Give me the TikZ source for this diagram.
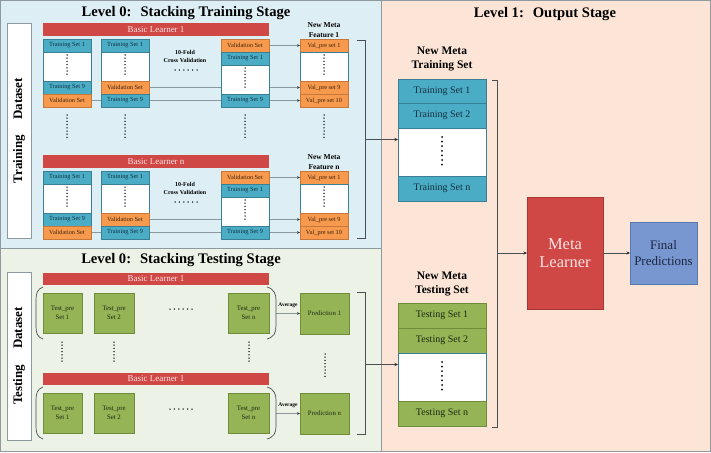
\documentclass[tikz,border=0pt]{standalone}
\usepackage{fontspec}
\setmainfont{Liberation Serif}
\usetikzlibrary{arrows.meta}
\newcommand\fsz[2]{\fontsize{#1}{#2}\selectfont}
\pgfdeclarelayer{bg}
\pgfdeclarelayer{wires}
\pgfsetlayers{bg,wires,main}
\definecolor{bluebg}{HTML}{DDEEF5}
\definecolor{greenbg}{HTML}{ECF2E5}
\definecolor{peachbg}{HTML}{FCE5D7}
\definecolor{tealc}{HTML}{4BACC6}
\definecolor{teald}{HTML}{3A7F96}
\definecolor{ttxt}{HTML}{13303D}
\definecolor{orc}{HTML}{F79A4E}
\definecolor{ord}{HTML}{C8773A}
\definecolor{otxt}{HTML}{3A200C}
\definecolor{redc}{HTML}{D04846}
\definecolor{redd}{HTML}{A83634}
\definecolor{redtxt}{HTML}{FBE3E3}
\definecolor{grc}{HTML}{94B456}
\definecolor{grd}{HTML}{6E8C3A}
\definecolor{gtxt}{HTML}{1E2A12}
\definecolor{bluec}{HTML}{7896CF}
\definecolor{blued}{HTML}{5A78B0}
\definecolor{bluetxt}{HTML}{1C2840}
\definecolor{panelline}{HTML}{8E9AA0}
\definecolor{wirec}{HTML}{8A979C}
\definecolor{brkc}{HTML}{4A4F52}
\begin{document}
\begin{tikzpicture}[x=1pt,y=-1pt,
  cellb/.style={rectangle,inner sep=0pt,outer sep=0pt,anchor=north west,line width=0.5pt},
  tcell/.style={cellb,fill=tealc,draw=teald,text=ttxt,minimum width=48pt,minimum height=#1,font=\fsz{6.3}{7}},
  tcell/.default=13pt,
  ocell/.style={cellb,fill=orc,draw=ord,text=otxt,minimum width=48pt,minimum height=#1,font=\fsz{6.3}{7}},
  ocell/.default=13pt,
  wcell/.style={cellb,fill=white,draw=teald,minimum width=48pt,minimum height=#1},
  redbar/.style={cellb,fill=redc,text=redtxt,minimum width=226pt,minimum height=#1,font=\fsz{9}{10}},
  gsq/.style={cellb,fill=grc,draw=grd,text=gtxt,minimum height=40pt,align=center,font=\fsz{6.8}{8.5}},
  mt/.style={cellb,fill=tealc,draw=teald,text=ttxt,minimum width=88pt,minimum height=#1,font=\fsz{10}{12}},
  mg/.style={cellb,fill=grc,draw=grd,text=gtxt,minimum width=88pt,minimum height=#1,font=\fsz{10}{12}},
  mw/.style={cellb,fill=white,draw=teald,minimum width=88pt,minimum height=#1},
  hdr/.style={align=center,inner sep=0pt,font=\bfseries\fsz{7.5}{10}},
  ttl/.style={inner sep=0pt,font=\bfseries\fsz{14.6}{16}},
  wire/.style={draw=wirec,line width=0.5pt,-{Stealth[length=3pt,width=2.6pt,color=black!80]}},
  arr/.style={draw=brkc,line width=0.6pt,-{Stealth[length=3.5pt,width=3pt,color=black!85]}},
  brk/.style={draw=brkc,line width=0.7pt},
  dotv/.style={draw=black,line width=1.5pt,line cap=round,dash pattern=on 0pt off 3.2pt},
  doth/.style={draw=black,line width=1.5pt,line cap=round,dash pattern=on 0pt off 4.4pt},
  dotb/.style={draw=black,line width=2pt,line cap=round,dash pattern=on 0pt off 4.6pt},
  lbl/.style={draw=panelline,fill=white,rotate=90,inner sep=0pt,minimum height=24pt,font=\bfseries\fsz{13}{15}},
]
\useasboundingbox (0,0) rectangle (711,452);
% panels
\begin{pgfonlayer}{bg}
  \fill[peachbg] (0,0) rectangle (711,452);
  \fill[bluebg] (0,0) rectangle (382,248);
  \fill[greenbg] (0,248) rectangle (382,452);
  \draw[panelline,line width=0.8pt] (0.4,0.4) rectangle (710.6,451.6);
  \draw[panelline,line width=0.8pt] (0.4,0.4) rectangle (381.5,248);
  \draw[panelline,line width=0.8pt] (0.4,248) rectangle (381.5,451.6);
\end{pgfonlayer}

% ---------- Level 0 training ----------
\node[ttl] (t1) at (186,13) {Level 0:\hspace{9pt}Stacking Training Stage};
\node[lbl,minimum width=215pt] (ld1) at (19,130.5) {Training\hspace{15pt}Dataset};

\foreach \g/\oy/\lab in {1/0/1,2/132/n}{
  \node[redbar=13pt] (bl\g) at (43,23+\oy) {Basic Learner \lab};
  \node[tcell] (a1\g) at (43,39+\oy) {Training Set 1};
  \node[wcell=29pt] (a2\g) at (43,52+\oy) {};
  \node[tcell] (a3\g) at (43,81+\oy) {Training Set 9};
  \node[ocell] (a4\g) at (43,94+\oy) {Validation Set};
  \node[tcell] (b1\g) at (101,39+\oy) {Training Set 1};
  \node[wcell=29pt] (b2\g) at (101,52+\oy) {};
  \node[ocell] (b3\g) at (101,81+\oy) {Validation Set};
  \node[tcell] (b4\g) at (101,94+\oy) {Training Set 9};
  \node[ocell] (c1\g) at (221,39+\oy) {Validation Set};
  \node[tcell] (c2\g) at (221,52+\oy) {Training Set 1};
  \node[wcell=29pt] (c3\g) at (221,65+\oy) {};
  \node[tcell] (c4\g) at (221,94+\oy) {Training Set 9};
  \node[ocell] (d1\g) at (300,39+\oy) {Val\_pre set 1};
  \node[wcell=29pt] (d2\g) at (300,52+\oy) {};
  \node[ocell] (d3\g) at (300,81+\oy) {Val\_pre set 9};
  \node[ocell] (d4\g) at (300,94+\oy) {Val\_pre set 10};
  \node[hdr] (h\g) at (324,30+\oy) {New Meta\\Feature \lab};
  \node[align=center,inner sep=0pt,font=\bfseries\fsz{6}{8}] (cv\g) at (185,56+\oy) {10-Fold\\Cross Validation};
  \draw[doth] (175,70+\oy) -- (198,70+\oy);
  \foreach \n in {a2,b2,c3,d2} \draw[dotv] ([yshift=-3pt]\n\g.north) -- ++(0,20);
  \begin{pgfonlayer}{wires}
    \draw[wire] (c1\g.east) -- (d1\g.west);
    \draw[wire] (b3\g.east) -- (d3\g.west);
    \draw[wire] (a4\g.east) -- (d4\g.west);
  \end{pgfonlayer}
}
\foreach \x in {67,125,245,324} \draw[dotv] (\x,115) -- (\x,139);
\draw[brk] (357,40) -- (365,40) -- (365,238) -- (357,238);
\coordinate (k1) at (365,139.5);

% ---------- Level 0 testing ----------
\node[ttl] (t2) at (181,260) {Level 0:\hspace{9pt}Stacking Testing Stage};
\node[lbl,minimum width=168pt] (ld2) at (19,356) {Testing\hspace{16pt}Dataset};

\foreach \g/\oy/\lab in {1/0/1,2/100/n}{
  \node[redbar=12pt] (bb\g) at (43,273+\oy) {Basic Learner 1};
  \node[gsq,minimum width=39pt] (s1\g) at (43,293+\oy) {Test\_pre\\Set 1};
  \node[gsq,minimum width=40pt] (s2\g) at (94,293+\oy) {Test\_pre\\Set 2};
  \node[gsq,minimum width=41pt] (s3\g) at (228,293+\oy) {Test\_pre\\Set n};
  \node[gsq,minimum width=49pt,minimum height=41pt] (p\g) at (300,293+\oy) {Prediction \lab};
  \draw[doth] (170,309+\oy) -- (194,309+\oy);
  \draw[brk] (43,287+\oy) .. controls (37,289+\oy) and (36,294+\oy) .. (36,300+\oy) -- (36,326+\oy) .. controls (36,333+\oy) and (37,337+\oy) .. (43,339+\oy);
  \draw[brk] (267,287+\oy) .. controls (274,289+\oy) and (276,294+\oy) .. (276,300+\oy) -- (276,326+\oy) .. controls (276,333+\oy) and (274,337+\oy) .. (267,339+\oy);
  \coordinate (pa\g) at (276,313.5+\oy);
  \node[inner sep=0pt,font=\bfseries\fsz{5.5}{6}] (av\g) at (288,305+\oy) {Average};
  \begin{pgfonlayer}{wires}\draw[wire] (pa\g) -- (p\g.west);\end{pgfonlayer}
}
\foreach \x in {62,114,249} \draw[dotv] (\x,342) -- (\x,364);
\draw[dotv] (325,354) -- (325,378);
\draw[brk] (357,292) -- (365,292) -- (365,434) -- (357,434);
\coordinate (k2) at (365,364.5);

% ---------- Level 1 ----------
\node[ttl] (t3) at (545,14) {Level 1:\hspace{9pt}Output Stage};
\node[hdr,font=\bfseries\fsz{11.5}{14}] (h3) at (442,59) {New Meta\\Training Set};
\node[mt=24pt] (r1) at (398,79) {Training Set 1};
\node[mt=25pt] (r2) at (398,103) {Training Set 2};
\node[mw=48pt] (r3) at (398,128) {};
\node[mt=25pt] (r4) at (398,176) {Training Set n};
\draw[dotb] ([yshift=-9pt]r3.north) -- ++(0,28);
\node[hdr,font=\bfseries\fsz{11.5}{14}] (h4) at (442,284) {New Meta\\Testing Set};
\node[mg=25pt] (q1) at (398,303) {Testing Set 1};
\node[mg=25pt] (q2) at (398,328) {Testing Set 2};
\node[mw=48pt] (q3) at (398,353) {};
\node[mg=25pt] (q4) at (398,401) {Testing Set n};
\draw[dotb] ([yshift=-9pt]q3.north) -- ++(0,28);
\draw[brk] (492,80) -- (497,80) -- (497,427) -- (492,427);
\coordinate (k3) at (497,253);
\node[cellb,fill=redc,draw=redd,minimum width=76pt,minimum height=112pt,text=redtxt,align=center,font=\fsz{16.5}{18}] (ml) at (527,197) {Meta\\Learner};
\node[cellb,fill=bluec,draw=blued,minimum width=67pt,minimum height=62pt,text=bluetxt,align=center,font=\fsz{13}{16}] (fp) at (630,222) {Final\\Predictions};

\draw[arr] (k1) -- (k1 -| r3.west);
\draw[arr] (k2) -- (k2 -| q3.west);
\draw[arr] (k3) -- (ml.west);
\draw[arr] (ml.east) -- (fp.west);
\end{tikzpicture}
\end{document}
